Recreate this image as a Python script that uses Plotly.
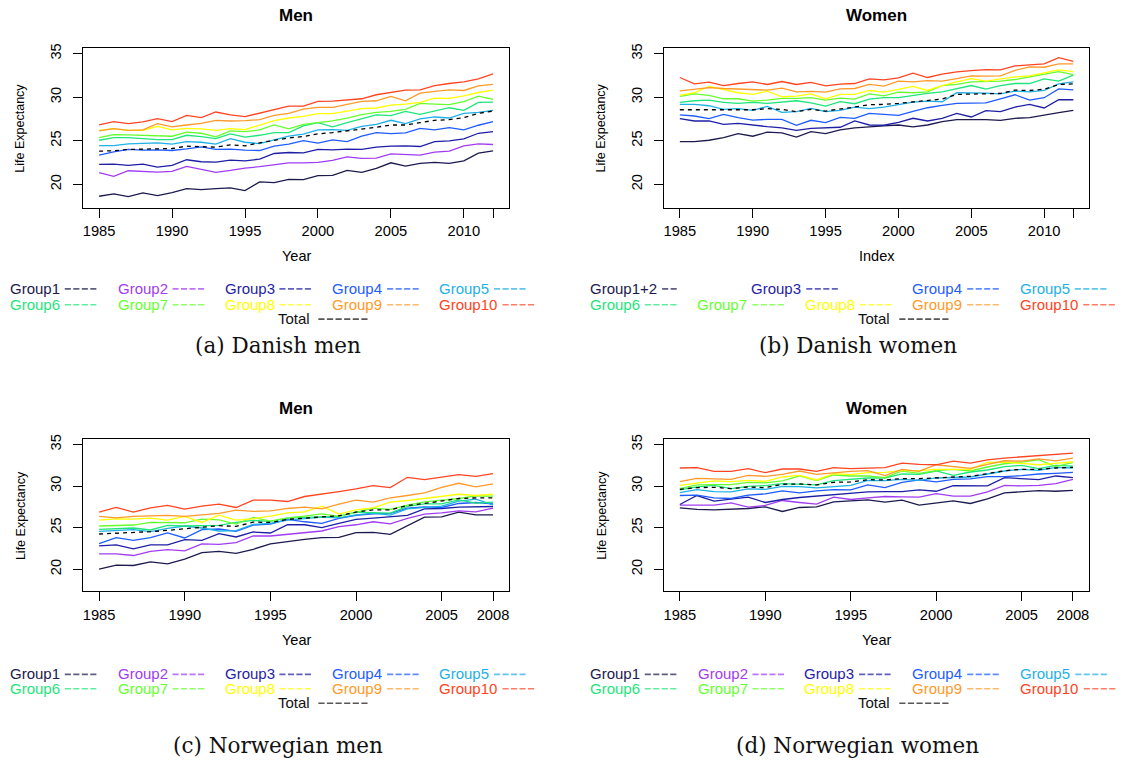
import plotly.graph_objects as go

# ---------------- data ----------------
YEARS_DK = list(range(1985, 2013))
YEARS_NO = list(range(1985, 2009))

# (a) Danish men
DKM_G1 = [18.63,18.90,18.59,19.01,18.71,19.05,19.51,19.39,19.51,19.58,19.28,20.27,20.19,20.57,20.53,20.99,21.03,21.60,21.37,21.83,22.47,22.09,22.40,22.51,22.40,22.70,23.58,23.84]
DKM_G2 = [21.33,20.91,21.56,21.48,21.41,21.48,22.06,21.71,21.37,21.60,21.87,22.02,22.21,22.47,22.47,22.51,22.74,23.16,22.97,23.01,23.50,23.43,23.35,23.69,23.81,24.42,24.64,24.57]
DKM_G3 = [22.28,22.32,22.17,22.32,21.98,22.17,22.82,22.59,22.55,22.78,22.70,22.89,23.54,23.65,23.62,24.00,23.96,24.04,24.00,24.26,24.38,24.42,24.34,24.91,24.99,25.21,25.86,26.05]
DKM_G4 = [23.35,23.73,24.00,23.92,23.96,23.88,24.07,24.30,24.00,24.04,23.92,23.88,24.38,24.61,25.02,24.72,25.10,24.91,25.52,25.94,25.82,25.90,26.43,26.24,26.51,26.24,26.78,27.19]
DKM_G5 = [24.45,24.45,24.64,24.72,24.76,24.61,24.91,24.83,24.61,25.25,24.83,24.68,25.14,25.52,25.75,26.24,26.28,26.20,26.66,26.89,27.35,26.97,27.50,27.73,27.61,28.15,28.26,28.49]
DKM_G6 = [25.06,25.37,25.37,25.25,25.14,25.14,25.63,25.48,25.25,25.79,25.41,25.63,25.94,25.94,26.70,27.08,26.59,27.08,27.54,27.96,27.88,28.37,28.03,28.45,28.79,28.49,29.40,29.44]
DKM_G7 = [25.37,25.71,25.67,25.63,25.56,25.52,25.98,25.86,25.44,26.13,26.05,26.24,26.81,26.36,26.89,27.12,27.27,27.61,27.99,28.26,28.37,28.60,29.29,29.21,29.14,29.48,30.13,29.75]
DKM_G8 = [26.20,26.40,26.20,26.20,26.66,26.24,26.43,26.36,26.20,26.40,26.28,26.81,27.31,27.61,27.80,28.11,28.11,28.41,28.68,28.76,29.10,29.21,29.40,29.90,29.86,30.16,30.54,30.81]
DKM_G9 = [26.13,26.40,26.20,26.24,26.97,26.59,26.81,27.00,27.35,27.27,27.31,27.42,27.92,28.15,28.64,28.83,28.83,29.21,29.52,29.59,30.09,29.59,30.47,30.66,30.85,30.77,31.31,31.46]
DKM_G10 = [26.81,27.19,26.97,27.16,27.54,27.19,27.92,27.65,28.30,27.96,27.77,28.18,28.60,28.98,28.98,29.52,29.55,29.71,29.82,30.28,30.54,30.81,30.85,31.34,31.57,31.76,32.10,32.68]
DKM_TOTAL = [23.81,23.84,24.00,24.04,24.07,24.11,24.38,24.34,24.26,24.53,24.42,24.76,25.02,25.33,25.48,25.79,25.94,26.13,26.28,26.55,26.81,26.81,27.08,27.35,27.42,27.65,28.15,28.41]

# (b) Danish women
DKW_G12 = [24.91,24.91,25.06,25.37,25.82,25.52,25.98,25.90,25.41,26.05,25.82,26.24,26.47,26.62,26.70,26.81,26.59,26.81,27.19,27.42,27.46,27.42,27.35,27.58,27.65,27.96,28.22,28.49]
DKW_G3 = [27.54,27.27,27.27,26.89,27.00,26.78,26.62,26.47,26.20,26.43,26.51,26.55,27.27,26.81,26.78,27.12,27.58,27.27,27.58,28.15,27.73,28.45,28.34,28.87,29.17,28.76,29.71,29.71]
DKW_G4 = [27.96,27.84,27.54,28.03,27.65,27.38,27.46,27.46,26.78,27.35,27.08,27.69,27.58,28.15,28.03,27.92,28.37,28.79,29.06,29.29,29.33,29.36,29.82,30.28,29.67,29.94,30.96,30.85]
DKW_G5 = [29.17,29.17,29.02,28.60,28.68,28.49,28.95,28.26,28.34,28.72,28.34,28.49,28.87,28.68,28.87,29.14,29.44,29.56,29.48,30.51,30.51,30.47,30.39,30.70,30.62,30.77,31.53,31.76]
DKW_G6 = [29.40,29.59,29.67,29.40,29.29,29.40,29.29,29.48,29.59,29.36,28.98,29.48,29.25,29.79,29.94,29.94,30.20,30.43,30.62,30.96,31.34,30.92,31.34,31.57,31.57,32.11,31.84,32.53]
DKW_G7 = [30.09,30.39,30.20,29.82,29.82,29.56,29.67,29.86,29.86,29.94,29.67,29.90,29.79,30.39,30.16,30.59,30.51,30.62,31.34,31.46,31.76,31.76,31.84,32.03,32.33,32.68,32.94,32.60]
DKW_G8 = [30.20,30.51,31.23,30.85,30.51,30.32,30.70,30.05,30.13,30.39,29.82,30.32,30.32,30.77,30.59,30.89,31.23,30.77,31.34,31.76,32.14,31.84,32.07,32.33,32.45,32.75,33.13,32.94]
DKW_G9 = [30.73,30.89,31.11,31.00,30.92,30.81,30.81,31.04,30.62,30.66,30.59,30.96,31.00,31.46,31.27,31.84,31.76,31.91,31.84,32.14,32.45,32.41,32.45,33.09,33.48,33.44,33.82,33.82]
DKW_G10 = [32.26,31.53,31.72,31.34,31.57,31.76,31.46,31.80,31.46,31.69,31.31,31.50,31.57,32.11,31.99,32.22,32.75,32.26,32.64,32.90,33.06,33.17,33.13,33.59,33.70,33.82,34.54,34.12]
DKW_TOTAL = [28.56,28.56,28.60,28.60,28.64,28.56,28.68,28.60,28.34,28.60,28.41,28.60,28.87,29.14,29.17,29.29,29.44,29.56,29.79,30.32,30.39,30.39,30.43,30.81,30.77,30.92,31.46,31.53]

# (c) Norwegian men
NOM_G1 = [20.00,20.48,20.44,20.88,20.64,21.20,21.99,22.15,21.91,22.39,23.03,23.35,23.59,23.79,23.83,24.39,24.43,24.19,25.19,26.26,26.30,26.86,26.54,26.54]
NOM_G2 = [21.83,21.83,21.64,22.15,22.35,22.19,23.03,22.99,23.19,23.99,23.99,24.19,24.47,24.59,25.11,25.34,25.70,25.46,26.10,26.62,26.78,27.02,26.90,27.34]
NOM_G3 = [22.79,22.91,22.43,22.91,22.91,23.55,23.47,24.27,23.87,24.47,24.35,25.34,25.34,24.99,25.50,25.98,26.14,26.34,26.46,27.26,27.30,27.46,27.46,27.54]
NOM_G4 = [23.07,23.79,23.47,23.79,24.35,23.75,24.75,24.83,24.55,25.31,25.42,25.98,25.70,25.50,26.10,26.46,26.66,26.70,27.34,27.50,27.42,27.90,28.02,27.86]
NOM_G5 = [24.55,24.63,24.75,24.51,24.91,25.19,24.95,24.59,24.63,25.38,25.50,25.90,26.06,26.26,26.18,26.54,26.74,26.50,27.26,27.46,27.58,28.18,28.42,27.74]
NOM_G6 = [24.79,24.91,24.95,24.71,25.27,25.19,25.19,25.27,25.62,25.86,25.74,26.14,26.22,26.26,26.34,26.86,26.82,26.74,27.54,27.86,27.86,28.34,27.94,28.06]
NOM_G7 = [25.19,25.27,25.31,25.62,25.58,25.58,26.02,25.94,25.42,26.22,25.78,26.18,26.38,26.66,26.34,26.82,27.34,27.18,27.70,28.10,28.26,28.50,28.82,28.78]
NOM_G8 = [25.90,26.06,26.02,26.14,25.90,26.34,25.62,26.50,25.90,26.06,26.38,26.78,26.90,27.58,26.62,27.14,27.38,28.06,28.26,28.50,28.82,29.01,28.86,29.01]
NOM_G9 = [26.34,26.18,26.34,26.38,26.46,26.34,26.54,26.70,27.10,26.94,27.02,27.30,27.46,27.26,27.82,28.30,28.06,28.58,28.86,29.17,29.85,30.33,29.89,30.25]
NOM_G10 = [26.86,27.42,26.86,27.38,27.66,27.22,27.58,27.82,27.42,28.30,28.30,28.14,28.74,29.01,29.33,29.65,30.05,29.81,31.05,30.77,31.09,31.37,31.17,31.49]
NOM_TOTAL = [24.23,24.31,24.47,24.51,24.67,24.87,25.07,25.23,25.15,25.66,25.62,25.98,26.14,26.30,26.42,26.86,27.14,27.14,27.66,27.90,28.18,28.50,28.58,28.58]

# (d) Norwegian women
NOW_G1 = [27.38,27.18,27.14,27.18,27.30,27.50,26.94,27.42,27.50,28.10,28.26,28.34,28.06,28.30,27.70,27.98,28.22,27.90,28.46,29.17,29.29,29.45,29.37,29.49]
NOW_G2 = [27.70,27.70,27.70,27.98,27.46,27.66,28.26,28.02,27.82,28.66,28.38,28.58,28.74,28.70,28.66,29.09,28.78,28.78,29.29,30.09,30.01,30.09,30.29,30.81]
NOW_G3 = [27.78,28.86,28.18,28.42,28.66,28.02,28.38,28.62,28.78,28.94,29.13,29.29,29.33,29.33,29.53,29.37,30.05,30.01,30.01,31.01,30.93,30.77,31.21,31.01]
NOW_G4 = [28.86,28.90,28.58,28.50,28.90,29.05,29.41,29.17,29.41,29.57,29.53,30.13,29.81,30.45,30.73,30.49,30.81,30.85,31.13,31.13,31.25,31.45,31.53,31.65]
NOW_G5 = [29.21,29.57,29.33,29.29,29.65,29.61,29.97,29.93,29.77,29.97,30.09,30.69,30.65,30.81,30.69,30.97,31.05,31.09,31.45,31.81,32.01,31.89,32.25,32.17]
NOW_G6 = [29.53,29.89,30.09,29.69,29.97,30.05,30.29,30.17,30.13,30.65,30.81,30.97,30.97,31.45,31.41,31.81,31.29,31.69,31.93,32.33,32.48,32.09,32.48,32.40]
NOW_G7 = [29.69,30.13,30.17,30.17,30.45,30.37,30.61,31.21,30.65,31.33,31.21,31.21,31.01,31.81,31.53,31.85,32.01,31.81,32.29,32.68,32.88,33.16,32.33,32.84]
NOW_G8 = [30.09,30.37,30.61,30.53,30.69,30.57,31.09,31.29,30.73,31.49,31.37,31.61,31.65,31.85,31.85,32.01,32.01,32.01,32.84,32.88,32.72,32.56,32.72,32.92]
NOW_G9 = [30.53,30.93,30.85,30.81,31.29,31.17,31.41,31.81,31.41,31.61,31.77,31.85,31.25,32.01,31.77,32.56,32.33,32.13,32.60,33.04,33.00,33.28,33.04,33.36]
NOW_G10 = [32.17,32.21,31.77,31.77,32.09,31.61,32.05,32.05,31.77,32.21,32.09,32.17,32.21,32.76,32.60,32.56,33.00,32.76,33.16,33.36,33.52,33.60,33.80,33.96]
NOW_TOTAL = [29.61,29.81,29.85,29.69,29.89,29.81,30.21,30.25,30.13,30.45,30.49,30.77,30.73,30.89,30.89,31.01,31.13,31.17,31.49,31.85,32.01,32.01,32.17,32.25]

GROUP_LABELS = ["Group1", "Group2", "Group3", "Group4", "Group5",
                "Group6", "Group7", "Group8", "Group9", "Group10"]
DKW_LABELS = ["Group1+2", "Group3", "Group4", "Group5",
              "Group6", "Group7", "Group8", "Group9", "Group10"]

X_TICKS_DK = [1985, 1990, 1995, 2000, 2005, 2010, 2012]
X_TICKTEXT_DK = ["1985", "1990", "1995", "2000", "2005", "2010", ""]
X_TICKS_NO = [1985, 1990, 1995, 2000, 2005, 2008]
X_TICKTEXT_NO = ["1985", "1990", "1995", "2000", "2005", "2008"]
Y_TICKS = [20, 25, 30, 35]

# ---------------- styles ----------------
COLORS = ["#1c1a4e", "#a23cf2", "#1e1ea6", "#1f5cff", "#1eb0e6",
          "#1ee67a", "#66ff2e", "#ffff00", "#ff9a2a", "#ff4422"]
SANS = "Liberation Sans, Arial, Helvetica, sans-serif"
SERIF = "DejaVu Serif, Liberation Serif, serif"
W, H = 1124, 761
TICKFONT = 14.7
LEGFONT = 15


def fx(x):
    return x / W


def fy(y):
    return 1 - y / H


fig = go.Figure()

panels = [
    dict(key="", years=YEARS_DK, series=[DKM_G1, DKM_G2, DKM_G3, DKM_G4, DKM_G5, DKM_G6, DKM_G7, DKM_G8, DKM_G9, DKM_G10],
         colors=COLORS, labels=GROUP_LABELS, total=DKM_TOTAL, box=(82.5, 508.7, 43, 204),
         rng=[1983.92, 2013.08], tv=X_TICKS_DK, tt=X_TICKTEXT_DK, title="Men", xt="Year", ty=11),
    dict(key="2", years=YEARS_DK, series=[DKW_G12, DKW_G3, DKW_G4, DKW_G5, DKW_G6, DKW_G7, DKW_G8, DKW_G9, DKW_G10],
         colors=[COLORS[0]] + COLORS[2:], labels=DKW_LABELS, total=DKW_TOTAL, box=(664.3, 1090, 43, 204),
         rng=[1983.92, 2013.08], tv=X_TICKS_DK, tt=X_TICKTEXT_DK, title="Women", xt="Index", ty=11),
    dict(key="3", years=YEARS_NO, series=[NOM_G1, NOM_G2, NOM_G3, NOM_G4, NOM_G5, NOM_G6, NOM_G7, NOM_G8, NOM_G9, NOM_G10],
         colors=COLORS, labels=GROUP_LABELS, total=NOM_TOTAL, box=(82.5, 508.7, 436.7, 590.3),
         rng=[1984.08, 2008.92], tv=X_TICKS_NO, tt=X_TICKTEXT_NO, title="Men", xt="Year", ty=406),
    dict(key="4", years=YEARS_NO, series=[NOW_G1, NOW_G2, NOW_G3, NOW_G4, NOW_G5, NOW_G6, NOW_G7, NOW_G8, NOW_G9, NOW_G10],
         colors=COLORS, labels=GROUP_LABELS, total=NOW_TOTAL, box=(664.3, 1089.6, 436.7, 590.3),
         rng=[1984.08, 2008.92], tv=X_TICKS_NO, tt=X_TICKTEXT_NO, title="Women", xt="Year", ty=406),
]

annotations = []
shapes = []
layout_axes = {}

for p in panels:
    k = p["key"]
    xa, ya = "x" + k, "y" + k
    for vals, col, lab in zip(p["series"], p["colors"], p["labels"]):
        fig.add_trace(go.Scatter(x=p["years"], y=vals, mode="lines", name=lab,
                                 line=dict(color=col, width=1.3), xaxis=xa, yaxis=ya,
                                 showlegend=False))
    fig.add_trace(go.Scatter(x=p["years"], y=p["total"], mode="lines", name="Total",
                             line=dict(color="black", width=1.3, dash="4px,4px"),
                             xaxis=xa, yaxis=ya, showlegend=False))
    x0, x1, y0, y1 = p["box"]
    layout_axes["xaxis" + k] = dict(
        domain=[fx(x0), fx(x1)], anchor=ya, range=p["rng"], tickmode="array",
        tickvals=p["tv"], ticktext=p["tt"], ticks="outside", ticklen=9, tickwidth=1,
        tickcolor="black", showline=True, linecolor="black", linewidth=1, mirror=True,
        showgrid=False, zeroline=False, ticklabelstandoff=1,
        tickfont=dict(family=SANS, size=TICKFONT, color="black"))
    layout_axes["yaxis" + k] = dict(
        domain=[fy(y1), fy(y0)], anchor=xa, range=[17.32, 35.68], tickmode="array",
        tickvals=Y_TICKS, ticks="outside", ticklen=9, tickwidth=1, tickangle=-90,
        tickcolor="black", showline=True, linecolor="black", linewidth=1, mirror=True,
        showgrid=False, zeroline=False, ticklabelstandoff=6,
        tickfont=dict(family=SANS, size=TICKFONT, color="black"))
    cx = (x0 + x1) / 2
    annotations.append(dict(x=fx(cx), y=fy(p["ty"]), xref="paper", yref="paper",
                            text="<b>" + p["title"] + "</b>", showarrow=False,
                            font=dict(family=SANS, size=17, color="black"),
                            xanchor="center", yanchor="middle"))
    annotations.append(dict(x=fx(cx), y=fy(y1 + 49), xref="paper", yref="paper",
                            text=p["xt"], showarrow=False,
                            font=dict(family=SANS, size=14.5, color="black"),
                            xanchor="center", yanchor="middle"))
    annotations.append(dict(x=fx(x0 - 63), y=fy((y0 + y1) / 2 + 0.5), xref="paper", yref="paper",
                            text="Life Expectancy", showarrow=False, textangle=-90,
                            font=dict(family=SANS, size=12.5, color="black"),
                            xanchor="center", yanchor="middle"))


def legend_entry(xl, yc, label, color, dstart, dlen, period):
    annotations.append(dict(x=fx(xl - 2), y=fy(yc), xref="paper", yref="paper", text=label,
                            showarrow=False, xanchor="left", yanchor="middle",
                            font=dict(family=SANS, size=LEGFONT, color=color)))
    d = period * 0.72
    g = period - d
    shapes.append(dict(type="line", xref="paper", yref="paper",
                       x0=fx(xl + dstart), x1=fx(xl + dstart + dlen), y0=fy(yc + 0.5), y1=fy(yc + 0.5),
                       line=dict(color=color, width=1.6, dash=f"{d:.1f}px,{g:.1f}px"), opacity=0.7))


def group_entry(xl, yc, lab, col):
    if lab == "Group1+2":
        legend_entry(xl, yc, lab, col, 72.3, 15.4, 8.5)
    elif lab == "Group10":
        legend_entry(xl, yc, lab, col, 63.5, 34, 8.5)
    else:
        legend_entry(xl, yc, lab, col, 55, 34, 8.5)


# legends (a) and (c)
COLS_L = [8.9, 116.8, 223.9, 331.8, 438.9]
for rows, totaly in (((285.3, 301.3), 315.7), ((673.3, 687.7), 702.3)):
    for i, lab in enumerate(GROUP_LABELS):
        group_entry(COLS_L[i % 5], rows[i // 5], lab, COLORS[i])
    legend_entry(277.9, totaly, "Total", "#111111", 40, 51.7, 8.6)

# legend (b)
B_POS = [(590, 285.3), (751.7, 285.3), (912.9, 285.3), (1020.7, 285.3),
         (590, 301.3), (697.7, 301.3), (805.3, 301.3), (912.9, 301.3), (1020.7, 301.3)]
B_COLS = [COLORS[0]] + COLORS[2:]
for (xl, yc), lab, col in zip(B_POS, DKW_LABELS, B_COLS):
    group_entry(xl, yc, lab, col)
legend_entry(858.6, 315.7, "Total", "#111111", 41.3, 51.2, 8.6)

# legend (d)
COLS_R = [589.9, 697.8, 804.6, 912.9, 1021.2]
for i, lab in enumerate(GROUP_LABELS):
    group_entry(COLS_R[i % 5], (673.3, 687.7)[i // 5], lab, COLORS[i])
legend_entry(858.6, 702.3, "Total", "#111111", 41.3, 51.2, 8.6)

# captions
for text, cx, cy in (("(a) Danish men", 277.7, 343), ("(b) Danish women", 858.6, 343),
                     ("(c) Norwegian men", 277.7, 745), ("(d) Norwegian women", 858.2, 745)):
    annotations.append(dict(x=fx(cx), y=fy(cy), xref="paper", yref="paper", text=text,
                            showarrow=False, xanchor="center", yanchor="middle",
                            font=dict(family=SERIF, size=21.5, color="#111111")))

fig.update_layout(
    width=W, height=H, margin=dict(l=0, r=0, t=0, b=0),
    paper_bgcolor="white", plot_bgcolor="white", showlegend=False,
    annotations=annotations, shapes=shapes, **layout_axes)

fig.write_html("out.html")
